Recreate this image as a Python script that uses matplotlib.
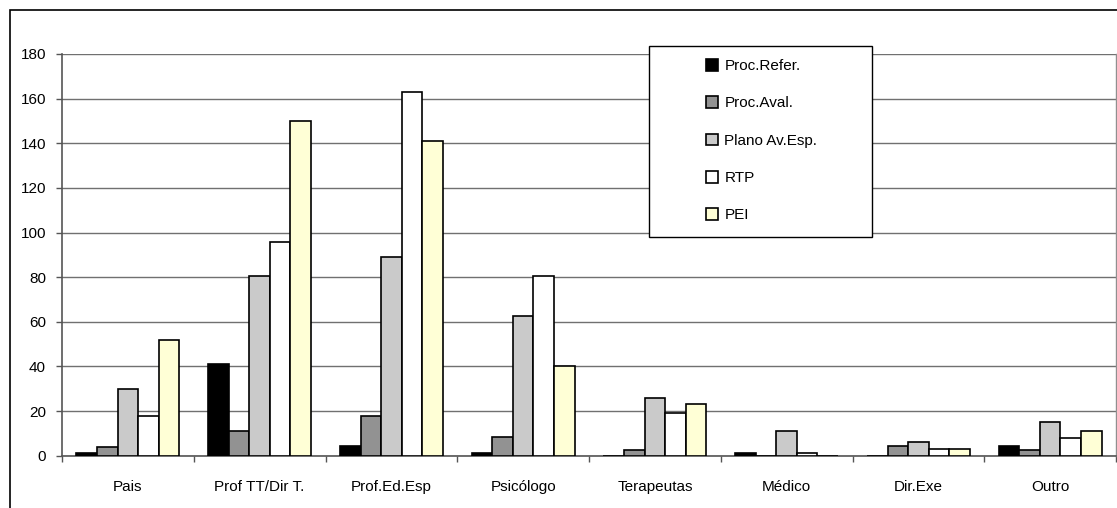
# -*- coding: utf-8 -*-
import numpy as np
import matplotlib
matplotlib.use('Agg')
import matplotlib.pyplot as plt
from matplotlib.patches import Rectangle

plt.rcParams['font.family'] = ['Liberation Sans', 'DejaVu Sans']

#======================================================数据===========================================================
categorias = ['Pais', 'Prof TT/Dir T.', 'Prof.Ed.Esp', 'Psicólogo', 'Terapeutas', 'Médico', 'Dir.Exe', 'Outro']
series = ['Proc.Refer.', 'Proc.Aval.', 'Plano Av.Esp.', 'RTP', 'PEI']

proc_refer = [1, 41, 4.5, 1, 0, 1, 0, 4.5]
proc_aval = [4, 11, 18, 8.5, 2.5, 0, 4.3, 2.5]
plano_av = [30, 80.5, 89, 62.5, 26, 11, 6, 15.3]
rtp = [18, 95.6, 163, 80.5, 19, 1, 3, 8]
pei = [52, 150, 141, 40, 23, 0, 3, 11]

valores = [proc_refer, proc_aval, plano_av, rtp, pei]
cores = ['#000000', '#929292', '#cacaca', '#ffffff', '#ffffd6']

#======================================================绘图===========================================================
W, H = 1117, 508
fig = plt.figure(figsize=(W / 100, H / 100), dpi=100)
ax = fig.add_axes([62 / W, (H - 455.7) / H, (1116 - 62) / W, (455.7 - 54) / H])

x = np.arange(len(categorias))
largura = 0.156
for i, serie in enumerate(series):
    ax.bar(x + (i - 2) * largura, valores[i], width=largura, color=cores[i],
           edgecolor='black', linewidth=1.2, label=serie, zorder=3)

# eixos
ax.set_xlim(-0.5, len(categorias) - 0.5)
ax.set_ylim(0, 180)
ax.set_yticks(np.arange(0, 181, 20))
ax.set_xticks(x)
ax.set_xticklabels(categorias)
ax.set_xticks(np.arange(-0.5, len(categorias)), minor=True)
ax.tick_params(axis='x', which='major', length=0, pad=17.5, labelsize=11)
ax.tick_params(axis='x', which='minor', length=4.5, width=1, color='#555555', direction='out')
ax.tick_params(axis='y', length=4.5, width=1, color='#555555', pad=7, labelsize=11)

ax.grid(axis='y', color='#707070', linewidth=1)
ax.set_axisbelow(True)
ax.spines['top'].set_visible(False)
for s in ['left', 'bottom', 'right']:
    ax.spines[s].set_color('#555555')
    ax.spines[s].set_linewidth(1.2)
ax.spines['right'].set_color('#909090')
ax.spines['right'].set_linewidth(1)

# moldura exterior
fig.patches.append(Rectangle((10 / W, -0.05), 1.1, 1 - 10 / H + 0.05, transform=fig.transFigure,
                             fill=False, edgecolor='black', linewidth=1.2, zorder=0))

# legenda
fig.patches.append(Rectangle((649.3 / W, 1 - 236.7 / H), (872.3 - 649.3) / W, (236.7 - 46) / H,
                             transform=fig.transFigure, facecolor='white', edgecolor='black',
                             linewidth=1, zorder=4))
leg = fig.legend(loc='upper left', bbox_to_anchor=(706 / W, 1 - 59 / H), frameon=False,
                 fontsize=11, handlelength=0.8, handleheight=0.8, handletextpad=0.4,
                 labelspacing=1.515, borderpad=0, borderaxespad=0)
leg.set_zorder(5)

fig.savefig('out.png', dpi=100)
